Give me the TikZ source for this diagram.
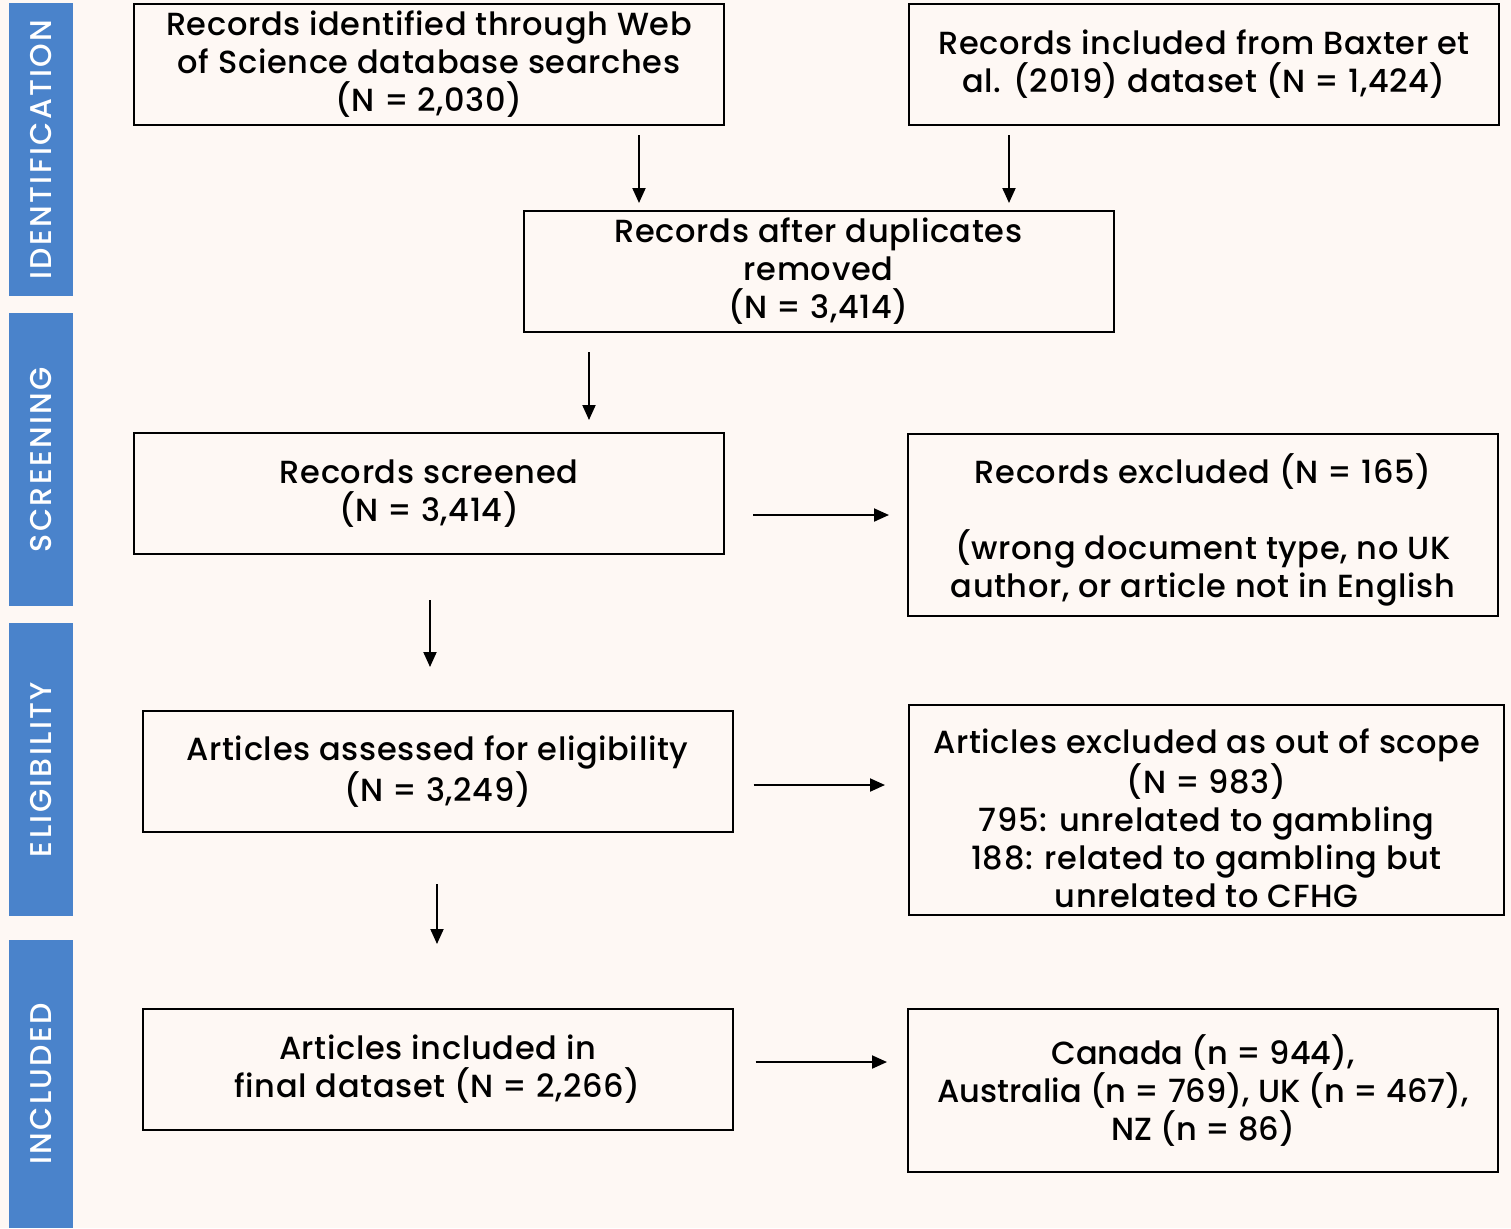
\documentclass[tikz,border=0pt]{standalone}
\usepackage{fontspec}
\setmainfont{Poppins}[UprightFont=* Medium]
\usetikzlibrary{arrows.meta,calc}
\definecolor{bgcream}{HTML}{FEF8F4}
\definecolor{bandblue}{HTML}{4A83CB}

\tikzset{
  boxtext/.style={inner sep=0pt,align=center,
    font=\fontsize{16}{19}\selectfont\addfontfeatures{LetterSpace=2}},
  box/.style={boxtext,rectangle,draw,line width=1pt,minimum width=295pt,
    minimum height=60.5pt},
  band/.style={rectangle,fill=bandblue,rotate=90,minimum height=32pt,
    inner sep=0pt,text=white,
    font=\fontsize{15}{18}\selectfont\addfontfeatures{LetterSpace=8}},
  arr/.style={-{Triangle[length=7.5pt,width=6.5pt]},line width=1pt}
}

\begin{document}
\begin{tikzpicture}[x=0.5pt,y=-0.5pt]
  \fill[bgcream] (0,0) rectangle (1511,1228);
  \useasboundingbox (0,0) rectangle (1511,1228);

  % stage bands
  \node[band,minimum width=146.5pt] (idband) at (41,149.5) {IDENTIFICATION};
  \node[band,minimum width=146.5pt] (scrband) at (41,459.5) {SCREENING};
  \node[band,minimum width=146.5pt] (eligband) at (41,769.5) {ELIGIBILITY};
  \node[band,minimum width=144pt] (inclband) at (41,1084) {INCLUDED};

  % boxes
  \node[box] (web) at (429,64.5)
  {Records identified through Web\\of Science database searches\\(N = 2,030)};
  \node[box] (baxter) at (1204,64.5)
  {Records included from Baxter et\\al. (2019) dataset (N = 1,424)};
  \node[box] (dup) at (818.5,271.5)
  {Records after duplicates\\removed\\(N = 3,414)};
  \node[box] (screened) at (429,493.5)
  {Records screened\\(N = 3,414)};
  \node[box,minimum height=91pt] (excl1) at (1203,525) {};
  \node[boxtext] (excl1txt) at (1203,530)
  {Records excluded (N = 165)\\[19pt](wrong document type, no UK\\author, or article not in English};
  \node[box] (assess) at (437.5,771.5)
  {Articles assessed for eligibility\\(N = 3,249)};
  \node[box,minimum width=297.5pt,minimum height=105pt] (excl2) at (1206.5,810) {};
  \node[boxtext] (excl2txt) at (1206.5,818)
  {Articles excluded as out of scope\\(N = 983)\\795: unrelated to gambling\\188: related to gambling but\\unrelated to CFHG};
  \node[box] (included) at (437.5,1069.5)
  {Articles included in\\final dataset (N = 2,266)};
  \node[box,minimum height=81.5pt,
    font=\fontsize{16}{19}\selectfont\addfontfeatures{LetterSpace=0}]
    (countries) at (1203,1090.5)
  {Canada (n = 944),\\Australia (n = 769), UK (n = 467),\\NZ (n = 86)};

  % connectors
  \coordinate (colA) at (639,0);
  \coordinate (colB) at (1009,0);
  \coordinate (colC) at (589,0);
  \coordinate (colD) at (430,0);
  \coordinate (colE) at (437,0);
  \draw[arr] ($(colA |- web.south)+(0,9)$) -- ($(colA |- dup.north)+(0,-7)$);
  \draw[arr] ($(colB |- baxter.south)+(0,9)$) -- ($(colB |- dup.north)+(0,-7)$);
  \draw[arr] ($(colC |- dup.south)+(0,19)$) -- ($(colC |- screened.north)+(0,-12)$);
  \draw[arr] ($(colD |- screened.south)+(0,45)$) -- ($(colD |- assess.north)+(0,-43)$);
  \draw[arr] ($(colE |- assess.south)+(0,51)$) -- ($(colE |- included.north)+(0,-64)$);

  \coordinate (rowA) at (0,515);
  \coordinate (rowB) at (0,785);
  \coordinate (rowC) at (0,1062);
  \draw[arr] ($(screened.east |- rowA)+(28,0)$) -- ($(excl1.west |- rowA)+(-18,0)$);
  \draw[arr] ($(assess.east |- rowB)+(20,0)$) -- ($(excl2.west |- rowB)+(-23,0)$);
  \draw[arr] ($(included.east |- rowC)+(22,0)$) -- ($(countries.west |- rowC)+(-20,0)$);
\end{tikzpicture}
\end{document}
